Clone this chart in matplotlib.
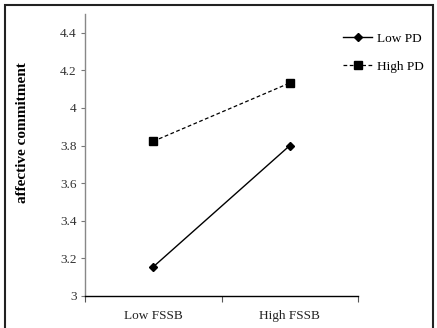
import matplotlib
matplotlib.use("Agg")
import matplotlib.pyplot as plt
from matplotlib.patches import Rectangle

categories = ["Low FSSB", "High FSSB"]
low_pd = [3.155, 3.80]
high_pd = [3.823, 4.133]
yticks = [3, 3.2, 3.4, 3.6, 3.8, 4, 4.2, 4.4]
ytick_labels = ["3", "3.2", "3.4", "3.6", "3.8", "4", "4.2", "4.4"]

plt.rcParams['font.family'] = ['Liberation Serif', 'DejaVu Serif']

fig = plt.figure(figsize=(4.37, 3.28), dpi=100)
ax = fig.add_axes([85/437, 1-296/328, (358-85)/437, (296-14)/328])

x = [0.5, 1.5]
ax.plot(x, low_pd, color='black', lw=1.0, marker='D', markersize=4, label='Low PD')
ax.plot(x, high_pd, color='black', lw=0.9, ls=(0, (3, 2)), marker='s', markersize=6, label='High PD')

ax.set_xlim(0, 2)
ax.set_ylim(3, 4.5)
ax.set_yticks(yticks)
ax.set_yticklabels(ytick_labels)
ax.set_xticks([0, 1, 2])
ax.set_xticklabels([])
ax.set_xticks(x, minor=True)
ax.set_xticklabels(categories, minor=True)
ax.tick_params(axis='x', which='minor', length=0, pad=10, labelsize=9.5, labelcolor='#222222')
ax.tick_params(axis='x', which='major', length=4, direction='out', color='#555555')
ax.tick_params(axis='y', length=3, direction='out', labelsize=9.5, labelcolor='#333333', color='#777777', pad=3)

for s in ['top', 'right']:
    ax.spines[s].set_visible(False)
ax.spines['left'].set_color('#888888')
ax.spines['left'].set_linewidth(1.0)
ax.spines['bottom'].set_color('black')
ax.spines['bottom'].set_linewidth(1.0)

ax.set_ylabel('affective commitment', fontsize=11, fontweight='bold')
ax.yaxis.set_label_coords(-0.205, 0.578)

leg = fig.legend(loc='upper left', bbox_to_anchor=(338/437, 1-27/328), frameon=False,
                 fontsize=9.5, handlelength=2.2, handletextpad=0.35, labelspacing=1.2,
                 borderaxespad=0)

rect = Rectangle((5/437, -0.05), 428/437, 1.05 - 5/328, transform=fig.transFigure,
                 fill=False, edgecolor='#222222', lw=1.5, clip_on=False)
fig.patches.append(rect)

fig.savefig('out.png', dpi=100)
